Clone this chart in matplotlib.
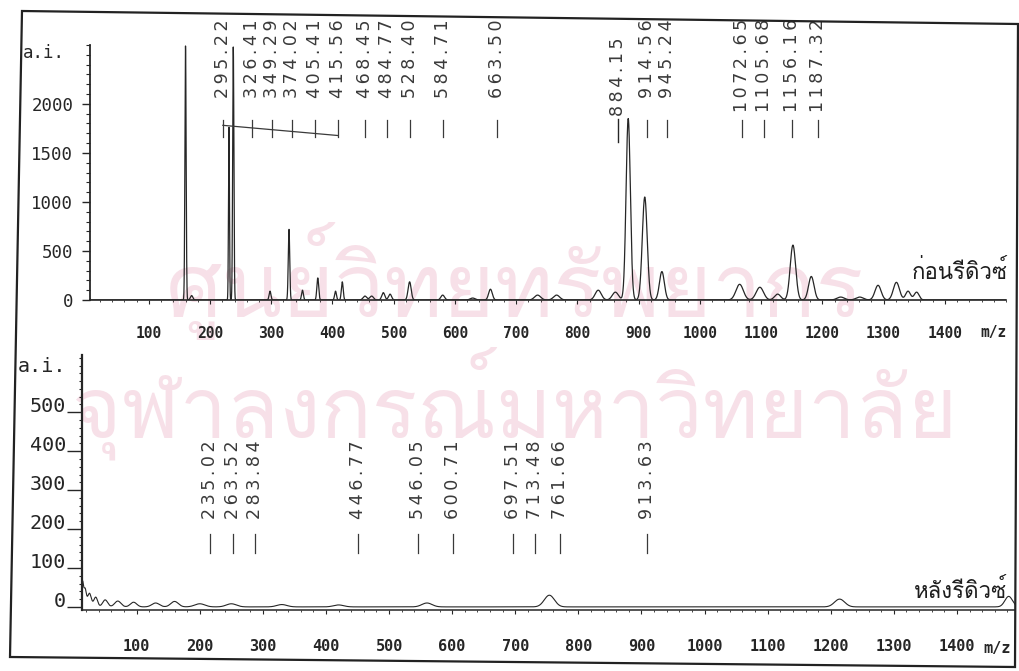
import numpy as np
import matplotlib
matplotlib.use("Agg")
import matplotlib.pyplot as plt
from matplotlib import font_manager as fm
from matplotlib.ft2font import FT2Font
from matplotlib.patches import Polygon
from matplotlib.ticker import MultipleLocator, FixedLocator

# ---------------- data ----------------
top_peak_mz = [2, 160, 170, 231, 238, 298, 329, 351, 376, 405, 416, 453, 464, 483, 494,
               526, 580, 629, 658, 735, 766, 834, 862, 883, 910, 938, 1065, 1098, 1127,
               1152, 1182, 1230, 1261, 1291, 1321, 1340, 1354]
top_peak_int = [310, 2590, 45, 1760, 2580, 90, 720, 100, 225, 90, 185, 40, 40, 75, 60,
                185, 50, 20, 110, 50, 50, 100, 80, 1850, 1050, 290, 160, 130, 60,
                560, 240, 30, 30, 150, 180, 90, 80]
top_peak_sigma = [0.8, 1.0, 2.0, 0.8, 1.0, 1.5, 1.2, 1.5, 1.5, 1.5, 1.5, 3, 3, 2.5, 2.5,
                  2.5, 3, 4, 3, 5, 5, 5, 5, 3.5, 4, 4, 6, 6, 5,
                  4.5, 4.5, 6, 6, 5, 5, 4, 4]

bot_peak_mz = [14, 18, 25, 35, 50, 70, 95, 130, 160, 200, 250, 330, 420, 560, 754, 1214, 1482]
bot_peak_int = [60, 45, 35, 25, 18, 15, 12, 10, 14, 8, 8, 6, 5, 10, 30, 20, 27]
bot_peak_sigma = [1.5, 2, 3, 3, 4, 5, 5, 6, 6, 8, 8, 8, 8, 8, 8, 8, 6]

top_labels = ["295.22", "326.41", "349.29", "374.02", "405.41", "415.56", "468.45",
              "484.77", "528.40", "584.71", "663.50", "884.15", "914.56", "945.24",
              "1072.65", "1105.68", "1156.16", "1187.32"]
bot_labels = ["235.02", "263.52", "283.84", "446.77", "546.05", "600.71", "697.51",
              "713.48", "761.66", "913.63"]

x_ticks = [100, 200, 300, 400, 500, 600, 700, 800, 900, 1000, 1100, 1200, 1300, 1400]
top_yticks = [0, 500, 1000, 1500, 2000]
bot_yticks = [0, 100, 200, 300, 400, 500]

title_top = "ก่อนรีดิวซ์"
title_bot = "หลังรีดิวซ์"
watermark_1 = "ศูนย์วิทยทรัพยากร"
watermark_2 = "จุฬาลงกรณ์มหาวิทยาลัย"

# label layout positions (in m/z units of each axis) - layout only
top_label_pos = [221, 269, 301, 334, 372, 409, 453, 489, 527, 581, 669, 866, 913, 946,
                 1069, 1104, 1150, 1193]
bot_label_pos = [216, 253, 287, 451, 546, 601, 696, 731, 771, 909]

# ---------------- fonts ----------------
def find_thai_font():
    for f in fm.fontManager.ttflist:
        try:
            if 0x0E01 in FT2Font(f.fname).get_charmap():
                return f.name
        except Exception:
            pass
    return None

thai = find_thai_font()
thai_family = [thai, "DejaVu Sans"] if thai else ["DejaVu Sans"]
mono = "DejaVu Sans Mono"
installed = {f.name for f in fm.fontManager.ttflist}
if "Liberation Sans Narrow" in installed:
    xfont, xsize_top, xsize_bot = "Liberation Sans Narrow", 13, 14
else:
    xfont, xsize_top, xsize_bot = mono, 10.5, 11


def spectrum(mz_grid, mzs, ints, sigmas):
    y = np.zeros_like(mz_grid)
    for m, h, s in zip(mzs, ints, sigmas):
        y += h * np.exp(-0.5 * ((mz_grid - m) / s) ** 2)
    return y


def spaced(s):
    return "\u2009".join(s)


W, H = 1020, 671
fig = plt.figure(figsize=(W / 100, H / 100), dpi=100)
fig.patch.set_facecolor("white")

# watermark
wm_color = "#f7e0e8"
fig.text(515 / W, 1 - 317 / H, watermark_1, family=thai_family, fontsize=64,
         color=wm_color, ha="center", va="baseline", zorder=-5)
fig.text(515 / W, 1 - 437 / H, watermark_2, family=thai_family, fontsize=61,
         color=wm_color, ha="center", va="baseline", zorder=-5)

# outer frame (slightly skewed as in the scan)
frame = Polygon([(22 / W, 1 - 11 / H), (1018 / W, 1 - 24 / H),
                 (1015 / W, 1 - 667 / H), (10 / W, 1 - 657 / H)],
                closed=True, fill=False, edgecolor="#222222", lw=1.6,
                transform=fig.transFigure)
fig.add_artist(frame)

ink = "#262626"

# ---------------- top panel ----------------
axT = fig.add_axes([90 / W, 1 - 300 / H, 916 / W, 255 / H])
axT.patch.set_alpha(0)
gT = np.linspace(4, 1500, 30000)
axT.plot(gT, spectrum(gT, top_peak_mz, top_peak_int, top_peak_sigma), color=ink, lw=0.9)
axT.set_xlim(4, 1500)
axT.set_ylim(0, 2600)
for s in ["top", "right"]:
    axT.spines[s].set_visible(False)
axT.spines["left"].set_linewidth(1.3)
axT.spines["bottom"].set_linewidth(1.2)
axT.spines["left"].set_color(ink)
axT.spines["bottom"].set_color(ink)
axT.yaxis.set_major_locator(FixedLocator(top_yticks))
axT.yaxis.set_minor_locator(MultipleLocator(100))
axT.xaxis.set_major_locator(FixedLocator(x_ticks))
axT.xaxis.set_minor_locator(MultipleLocator(20))
axT.tick_params(axis="y", which="major", length=6, width=1, pad=6, labelsize=12.5, colors=ink)
axT.tick_params(axis="y", which="minor", length=3, width=0.8, colors=ink)
axT.tick_params(axis="x", which="major", length=3, width=0.8, pad=16, labelsize=xsize_top, colors=ink)
axT.tick_params(axis="x", which="minor", length=1.5, width=0.6, colors=ink)
axT.set_yticklabels([str(v) for v in top_yticks], family=mono)
axT.set_xticklabels([str(v) for v in x_ticks], family=xfont, fontweight="bold")
fig.text(23 / W, 1 - 53 / H, "a.i.", family=mono, fontsize=12.5, color=ink, va="center")
fig.text(994 / W, 1 - 332 / H, "m/z", family=xfont, fontsize=xsize_top, fontweight="bold",
         color=ink, ha="center", va="center")
fig.text(1008 / W, 1 - 272 / H, title_top, family=thai_family, fontsize=16,
         color="#1e1e1e", ha="right", va="center")

tr = axT.get_xaxis_transform()
for lab, pos in zip(top_labels, top_label_pos):
    ytop = 1.102 if not lab.startswith("884") else 1.03
    axT.text(pos, ytop, spaced(lab), rotation=90, ha="center", va="top", fontsize=12.6,
             color="#3a3a3a", transform=tr, clip_on=False)
    if lab.startswith("884"):
        axT.plot([pos, pos], [0.71, 0.62], color=ink, lw=1.0, transform=tr, clip_on=False)
    else:
        axT.plot([pos, pos], [0.705, 0.64], color="#3a3a3a", lw=0.9, transform=tr, clip_on=False)
axT.plot([top_label_pos[0], top_label_pos[5]], [0.685, 0.645], color="#3a3a3a", lw=0.9,
         transform=tr, clip_on=False)

# ---------------- bottom panel ----------------
axB = fig.add_axes([82 / W, 1 - 610 / H, 933 / W, 255 / H])
axB.patch.set_alpha(0)
gB = np.linspace(13.3, 1492, 30000)
axB.plot(gB, spectrum(gB, bot_peak_mz, bot_peak_int, bot_peak_sigma), color=ink, lw=0.8)
axB.set_xlim(13.3, 1492)
axB.set_ylim(-8, 647)
for s in ["top", "right"]:
    axB.spines[s].set_visible(False)
axB.spines["left"].set_linewidth(1.6)
axB.spines["bottom"].set_linewidth(1.1)
axB.spines["left"].set_color(ink)
axB.spines["bottom"].set_color(ink)
axB.spines["bottom"].set_position(("data", -8))
axB.yaxis.set_major_locator(FixedLocator(bot_yticks))
axB.yaxis.set_minor_locator(MultipleLocator(20))
axB.xaxis.set_major_locator(FixedLocator(x_ticks))
axB.xaxis.set_minor_locator(MultipleLocator(20))
axB.tick_params(axis="y", which="major", length=11, width=1, pad=0.5, labelsize=14.5, colors=ink)
axB.tick_params(axis="y", which="minor", length=2.5, width=0.8, colors=ink)
axB.tick_params(axis="x", which="major", length=3, width=0.8, pad=18, labelsize=xsize_bot, colors=ink)
axB.tick_params(axis="x", which="minor", length=1.5, width=0.6, colors=ink)
axB.set_yticklabels([str(v) for v in bot_yticks], family=mono)
for t in axB.get_yticklabels():
    t.set_va("baseline")
axB.set_xticklabels([str(v) for v in x_ticks], family=xfont, fontweight="bold")
fig.text(18 / W, 1 - 367 / H, "a.i.", family=mono, fontsize=14.5, color=ink, va="center")
fig.text(997 / W, 1 - 648 / H, "m/z", family=xfont, fontsize=xsize_bot, fontweight="bold",
         color=ink, ha="center", va="center")
fig.text(1007 / W, 1 - 591 / H, title_bot, family=thai_family, fontsize=16,
         color="#1e1e1e", ha="right", va="center")

trB = axB.get_xaxis_transform()
for lab, pos in zip(bot_labels, bot_label_pos):
    axB.text(pos, 0.667, spaced(lab), rotation=90, ha="center", va="top", fontsize=12.6,
             color="#3a3a3a", transform=trB, clip_on=False)
    axB.plot([pos, pos], [0.30, 0.225], color="#3a3a3a", lw=0.9, transform=trB, clip_on=False)

fig.savefig("out.png", dpi=100, facecolor="white")
